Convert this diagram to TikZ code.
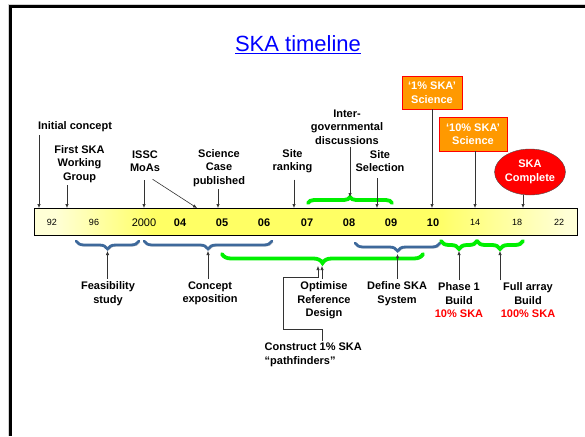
\documentclass[tikz,border=0pt]{standalone}
\usepackage{fontspec}
\setmainfont{Liberation Sans}
\usetikzlibrary{arrows.meta,decorations.pathreplacing,shapes.geometric}
\definecolor{skablue}{RGB}{0,0,255}
\definecolor{braceblue}{RGB}{62,105,155}
\definecolor{bracegreen}{RGB}{0,240,0}
\definecolor{boxorange}{RGB}{255,153,0}
\definecolor{barlight}{RGB}{255,255,214}
\definecolor{baryellow}{RGB}{255,255,100}
\pgfdeclarehorizontalshading{skabar}{100bp}{color(0bp)=(barlight); color(27bp)=(barlight); color(36bp)=(baryellow); color(62bp)=(baryellow); color(74bp)=(barlight); color(100bp)=(barlight)}
\tikzset{
  lbl/.style={font=\bfseries\fontsize{11}{13.5}\selectfont, align=center, inner sep=2.5pt},
  arr/.style={-{Latex[length=4pt,width=3.4pt]}, draw=black!80, line width=0.6pt},
  yrbold/.style={font=\bfseries\fontsize{11}{13}\selectfont},
  yrplain/.style={font=\fontsize{11}{13}\selectfont},
  yrsmall/.style={font=\fontsize{9}{11}\selectfont},
  sciencebox/.style={draw=red, fill=boxorange, text=white, align=center, inner sep=2pt,
    font=\bfseries\fontsize{11}{13.5}\selectfont},
  braceshadow/.style={preaction={draw=black!30, transform canvas={shift={(1.2,1.2)}}}},
  bluebrace/.style={decorate, decoration={brace,mirror,amplitude=8pt}, draw=braceblue,
    line width=2.8pt, line cap=round, braceshadow},
  greenbrace/.style={decorate, decoration={brace,mirror,amplitude=8pt}, draw=bracegreen,
    line width=3.8pt, line cap=round, braceshadow}
}
\begin{document}
\begin{tikzpicture}[x=1pt,y=-1pt]
\useasboundingbox (0,0) rectangle (585,436);
\draw[gray!35, line width=0.8pt] (585,4.2) -| (8.2,436);
\draw[line width=2.6pt] (585,6.5) -| (10.5,436);
\node[font=\fontsize{22}{26}\selectfont, text=skablue] (title) at (298,45) {\underline{SKA timeline}};

\shade[shading=skabar] (34,208) rectangle (577,235);
\draw[line width=0.8pt] (34,208) rectangle (577,235);
\foreach \yr/\x/\st in {92/52/yrsmall, 96/94/yrsmall, 2000/144/yrplain, 04/180/yrbold, 05/222/yrbold,
  06/264/yrbold, 07/307/yrbold, 08/349/yrbold, 09/391/yrbold, 10/433/yrbold,
  14/475/yrsmall, 18/517/yrsmall, 22/559/yrsmall}
  \node[\st] (y\yr) at (\x,222.5) {\yr};

\coordinate (cInit) at (39,208);
\coordinate (cWG) at (67,208);
\coordinate (cISSC) at (144,208);
\coordinate (cMoA) at (197,208);
\coordinate (cSci) at (218,208);
\coordinate (cRank) at (294,208);
\coordinate (cSel) at (377,208);
\coordinate (cOne) at (432,208);
\coordinate (cTen) at (475,208);
\coordinate (cDone) at (523,208);
\coordinate (bInter) at (350,197);

\node[lbl] (initial) at (75,127) {Initial concept};
\node[lbl] (firstwg) at (79.5,164) {First SKA\\Working\\Group};
\node[lbl] (issc) at (145,161) {ISSC\\MoAs};
\node[lbl] (science) at (219,168) {Science\\Case\\published};
\node[lbl] (ranking) at (292.5,161) {Site\\ranking};
\node[lbl] (intergov) at (347,127) {Inter-\\governmental\\discussions};
\node[lbl] (selection) at (380,161) {Site\\Selection};
\node[sciencebox, minimum width=60pt, minimum height=33pt] (onepc) at (432,92.5) {‘1\% SKA’\\Science};
\node[sciencebox, minimum width=68pt, minimum height=34pt] (tenpc) at (473,134) {‘10\% SKA’\\Science};
\node[ellipse, draw=black!70, fill=red, text=white, inner sep=0pt, minimum width=68pt, minimum height=46pt,
  align=center, font=\bfseries\fontsize{11}{13.5}\selectfont] (complete) at (530,172) {SKA\\Complete};

\draw[arr] (initial.south -| cInit) -- (cInit);
\draw[arr] (firstwg.south -| cWG) -- (cWG);
\draw[arr, shorten <=6pt] (issc.south -| cISSC) -- (cISSC);
\draw[arr, shorten <=9pt] (issc.south) -- (cMoA);
\draw[arr] (science.south -| cSci) -- (cSci);
\draw[arr, shorten <=4pt] (ranking.south -| cRank) -- (cRank);
\draw[greenbrace, decoration={mirror=false,amplitude=6pt}] (308,203) -- (392,203);
\draw[arr] (intergov.south -| bInter) -- (bInter);
\draw[arr, shorten <=4pt] (selection.south -| cSel) -- (cSel);
\draw[arr] (onepc.south -| cOne) -- (cOne);
\draw[arr] (tenpc.south -| cTen) -- (cTen);
\draw[arr] (complete.south -| cDone) -- (cDone);

\draw[bluebrace] (76,241) -- (139,241);
\draw[bluebrace] (144,241) -- (272,241);
\draw[greenbrace, decoration={amplitude=9pt}] (222,254) -- (423,254);
\draw[bluebrace] (355,243) -- (440,243);
\draw[greenbrace] (441,241) -- (477,241);
\draw[greenbrace] (477,241) -- (523,241);

\coordinate (bFeas) at (107.5,251);
\coordinate (bConcept) at (208,251);
\coordinate (bOptim) at (322,266);
\coordinate (bOptimL) at (318,266);
\coordinate (bDefine) at (397.5,254);
\coordinate (bPhase) at (459,251);
\coordinate (bFull) at (500,251);

\node[lbl] (feasibility) at (108,293.5) {Feasibility\\study};
\node[lbl] (concept) at (210,293.5) {Concept\\exposition};
\node[lbl] (optimise) at (324,300.5) {Optimise\\Reference\\Design};
\node[lbl] (definesys) at (397,293.5) {Define SKA\\System};
\node[lbl] (phase1) at (459,300.5) {Phase 1\\Build\\\textcolor{red}{10\% SKA}};
\node[lbl] (fullarray) at (528,300.5) {Full array\\Build\\\textcolor{red}{100\% SKA}};
\node[lbl, align=left, anchor=west] (construct) at (262,355) {Construct 1\% SKA\\“pathfinders”};

\draw[arr] (feasibility.north -| bFeas) -- (bFeas);
\draw[arr] (concept.north -| bConcept) -- (bConcept);
\draw[arr] (optimise.north -| bOptim) -- (bOptim);
\draw[arr] (construct.north -| bOptim) |- (283,329) -- (283,277) -| (bOptimL);
\draw[arr] (definesys.north -| bDefine) -- (bDefine);
\draw[arr] (phase1.north -| bPhase) -- (bPhase);
\draw[arr] (fullarray.north -| bFull) -- (bFull);
\end{tikzpicture}
\end{document}
